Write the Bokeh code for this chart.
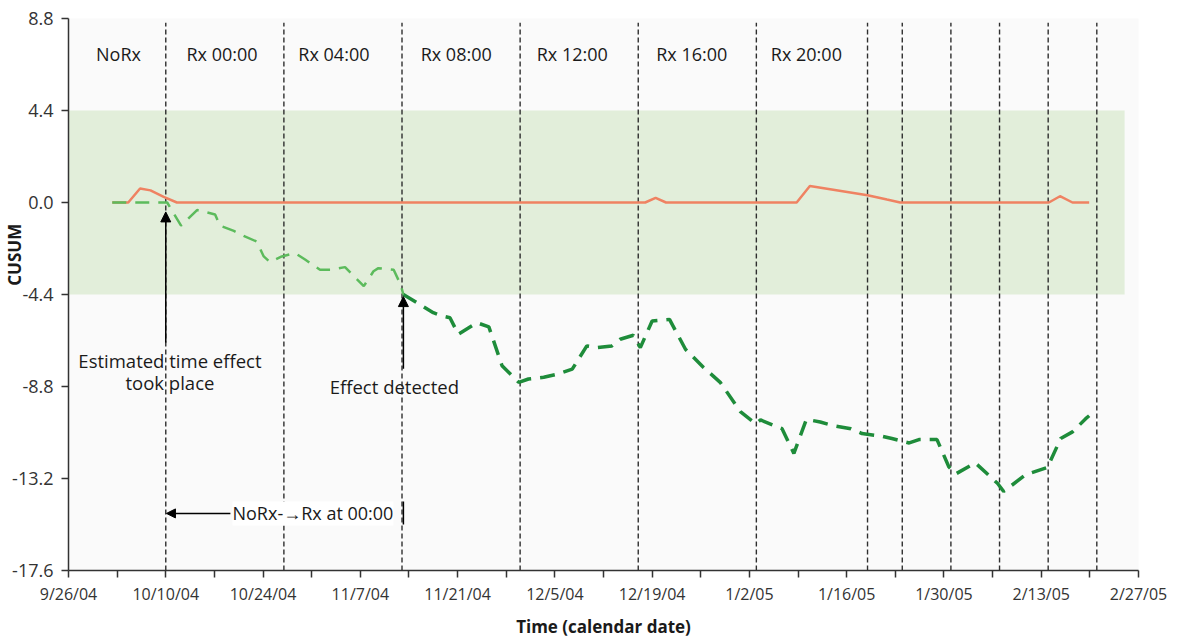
import pandas as pd
from bokeh.plotting import figure
from bokeh.models import (Range1d, FixedTicker, NumeralTickFormatter, CustomJSTickFormatter,
                          Label, Arrow, NormalHead, BoxAnnotation)
from bokeh.embed import file_html
from bokeh.resources import INLINE

# ---------------- data ----------------
START = "2004-09-26"

x_tick_dates = ["2004-09-26", "2004-10-10", "2004-10-24", "2004-11-07", "2004-11-21", "2004-12-05",
                "2004-12-19", "2005-01-02", "2005-01-16", "2005-01-30", "2005-02-13", "2005-02-27"]
x_tick_labels = ["9/26/04", "10/10/04", "10/24/04", "11/7/04", "11/21/04", "12/5/04",
                 "12/19/04", "1/2/05", "1/16/05", "1/30/05", "2/13/05", "2/27/05"]
y_ticks = [-17.6, -13.2, -8.8, -4.4, 0.0, 4.4, 8.8]

control_limit = 4.4
band_end_date = "2005-02-25"

change_dates = ["2004-10-10", "2004-10-27", "2004-11-13", "2004-11-30", "2004-12-17", "2005-01-03",
                "2005-01-19", "2005-01-24", "2005-01-31", "2005-02-07", "2005-02-14", "2005-02-21"]

phase_names = ["NoRx", "Rx 00:00", "Rx 04:00", "Rx 08:00", "Rx 12:00", "Rx 16:00", "Rx 20:00"]
phase_label_days = [7.2, 22.1, 38.2, 55.8, 72.5, 89.7, 106.2]

# upper CUSUM (days since START)
upper_days = [6.3, 8.6, 10.3, 11.8, 13.7, 15.6, 83.0, 84.5, 86.0, 104.8, 106.7, 115.0,
              117.8, 119.7, 141.1, 142.7, 144.5, 146.9]
upper_cusum = [0, 0, 0.67, 0.58, 0.27, 0, 0, 0.22, 0, 0, 0.79, 0.35,
               0.14, 0, 0, 0.30, 0, 0]

# lower CUSUM before the effect was detected
lower_days_a = [6.3, 14.2, 16.2, 18.5, 21.1, 21.8, 23.8, 25.2, 27.1, 28.1, 29.0, 30.7,
                32.6, 34.1, 36.2, 37.7, 39.8, 42.5, 43.9, 44.6, 46.8, 47.8, 48.2]
lower_cusum_a = [0, 0, -1.11, -0.36, -0.57, -1.11, -1.36, -1.60, -1.87, -2.58, -2.85, -2.58,
                 -2.42, -2.74, -3.22, -3.22, -3.09, -4.00, -3.29, -3.14, -3.22, -3.93, -4.40]

# lower CUSUM after the effect was detected
lower_days_b = [48.2, 52.5, 53.8, 54.9, 56.1, 58.8, 60.5, 62.4, 64.8, 66.2, 68.4, 70.1,
                72.5, 74.6, 76.1, 78.2, 79.4, 81.3, 82.3, 84.0, 86.5, 88.8, 91.4, 93.8,
                96.7, 98.9, 99.6, 102.7, 104.4, 106.2, 108.2, 109.9, 112.6, 114.2, 117.1, 118.5,
                121.0, 122.4, 125.0, 126.7, 127.7, 130.5, 133.7, 134.6, 137.7, 140.9, 142.8, 144.5,
                146.4, 146.9]
lower_cusum_b = [-4.40, -5.27, -5.43, -5.51, -6.30, -5.75, -5.95, -7.81, -8.60, -8.44, -8.36, -8.23,
                 -7.97, -6.86, -6.94, -6.86, -6.54, -6.35, -6.94, -5.67, -5.59, -7.02, -7.89, -8.60,
                 -10.00, -10.58, -10.40, -10.82, -12.00, -10.37, -10.50, -10.66, -10.82, -11.05, -11.18, -11.29,
                 -11.50, -11.34, -11.34, -12.64, -12.98, -12.45, -13.43, -13.82, -13.03, -12.67, -11.29, -10.97,
                 -10.34, -10.20]

# ---------------- helpers ----------------
MS_DAY = 86400000.0
T0 = pd.Timestamp(START).value / 1e6


def day_ms(d):
    return T0 + d * MS_DAY


def date_ms(s):
    return pd.Timestamp(s).value / 1e6


FONT = "Open Sans"
TXT = "#1a1a1a"

x_major = [date_ms(d) for d in x_tick_dates]
x_minor = [m + 7 * MS_DAY for m in x_major[:-1]]

p = figure(width=1180, height=640, x_axis_type="datetime",
           x_range=Range1d(start=x_major[0], end=x_major[-1]),
           y_range=Range1d(start=y_ticks[0], end=y_ticks[-1]),
           output_backend="svg", toolbar_location=None,
           min_border_left=68, min_border_right=42, min_border_top=18, min_border_bottom=66)
p.grid.visible = False
p.outline_line_color = None
p.background_fill_color = "#fafafa"
p.border_fill_color = "white"

# control band
p.add_layout(BoxAnnotation(bottom=-control_limit, top=control_limit, right=date_ms(band_end_date),
                           fill_color="#e2eeda", fill_alpha=1.0, line_color=None, level="underlay"))

# change-point lines
cx = [date_ms(d) for d in change_dates]
p.segment(x0=cx, x1=cx, y0=[y_ticks[0]] * len(cx), y1=[8.6] * len(cx),
          line_color="#2e2e2e", line_width=1.4, line_dash="5 3")

# CUSUM lines
p.line([day_ms(d) for d in upper_days], upper_cusum, line_color="#ef8262", line_width=2.5)
p.line([day_ms(d) for d in lower_days_a], lower_cusum_a, line_color="#5cbb5c", line_width=2.5,
       line_dash="14 9")
p.line([day_ms(d) for d in lower_days_b], lower_cusum_b, line_color="#1e8c3a", line_width=3.5,
       line_dash="15 9")

# phase labels
for name, d in zip(phase_names, phase_label_days):
    p.add_layout(Label(x=day_ms(d), y=7.08, text=name, text_font=FONT, text_font_size="18px",
                       text_color=TXT, text_align="center", text_baseline="middle"))

# annotations
ANN = "18.5px"
p.add_layout(Arrow(end=NormalHead(size=10, fill_color="black", line_color="black"),
                   x_start=day_ms(14.0), y_start=-6.7, x_end=day_ms(14.0), y_end=-0.45,
                   line_color="black", line_width=1.5))
p.add_layout(Label(x=day_ms(14.6), y=-7.55, text="Estimated time effect", text_font=FONT,
                   text_font_size=ANN, text_color=TXT, text_align="center", text_baseline="middle"))
p.add_layout(Label(x=day_ms(14.6), y=-8.6, text="took place", text_font=FONT,
                   text_font_size=ANN, text_color=TXT, text_align="center", text_baseline="middle"))

p.add_layout(Arrow(end=NormalHead(size=10, fill_color="black", line_color="black"),
                   x_start=day_ms(48.2), y_start=-7.95, x_end=day_ms(48.2), y_end=-4.5,
                   line_color="black", line_width=1.5))
p.add_layout(Label(x=day_ms(46.9), y=-8.79, text="Effect detected", text_font=FONT,
                   text_font_size=ANN, text_color=TXT, text_align="center", text_baseline="middle"))

p.add_layout(Arrow(end=NormalHead(size=9, fill_color="black", line_color="black"),
                   x_start=day_ms(23.3), y_start=-14.87, x_end=day_ms(14.1), y_end=-14.87,
                   line_color="black", line_width=1.5))
p.add_layout(Label(x=day_ms(23.6), y=-14.87, text="NoRx-→Rx at 00:00", text_font=FONT,
                   text_font_size="18px", text_color=TXT, text_align="left", text_baseline="middle",
                   background_fill_color="white", background_fill_alpha=1.0))
p.segment(x0=[day_ms(48.2)], x1=[day_ms(48.2)], y0=[-14.3], y1=[-15.4], line_color="black", line_width=1.5)

# axes
for ax in (p.xaxis[0], p.yaxis[0]):
    ax.axis_line_color = "#333333"
    ax.axis_line_width = 1.5
    ax.major_tick_line_color = "#333333"
    ax.minor_tick_line_color = "#333333"
    ax.major_tick_line_width = 1.5
    ax.minor_tick_line_width = 1.5
    ax.major_tick_in = 0
    ax.major_tick_out = 7
    ax.minor_tick_in = 0
    ax.major_label_text_font = FONT
    ax.major_label_text_color = "#333333"

p.xaxis.major_label_standoff = 5
p.yaxis.major_label_standoff = 8
p.xaxis.major_label_text_font_size = "16px"
p.yaxis.major_label_text_font_size = "18px"

p.xaxis.ticker = FixedTicker(ticks=x_major, minor_ticks=x_minor)
p.xaxis.formatter = CustomJSTickFormatter(args=dict(tvals=x_major, tlabels=x_tick_labels), code="""
for (let i = 0; i < tvals.length; i++) {
  if (Math.abs(tvals[i] - tick) < 1000) { return tlabels[i]; }
}
return "";
""")
p.xaxis.minor_tick_out = 7
p.xaxis.axis_label = "Time (calendar date)"
p.xaxis.axis_label_text_font = FONT
p.xaxis.axis_label_text_font_size = "17px"
p.xaxis.axis_label_text_font_style = "bold"
p.xaxis.axis_label_text_color = TXT
p.xaxis.axis_label_standoff = 7

p.yaxis.ticker = FixedTicker(ticks=y_ticks)
p.yaxis.formatter = NumeralTickFormatter(format="0.0")
p.yaxis.minor_tick_out = 0
# y-axis title: pulled into the tick-label column and lifted above centre (as in the original)
p.yaxis.axis_label = "\u00a0" * 18 + "CUSUM"
p.yaxis.axis_label_text_font = FONT
p.yaxis.axis_label_text_font_size = "17px"
p.yaxis.axis_label_text_font_style = "bold"
p.yaxis.axis_label_text_color = TXT
p.yaxis.axis_label_standoff = -17

open("out.html", "w").write(file_html(p, INLINE))
